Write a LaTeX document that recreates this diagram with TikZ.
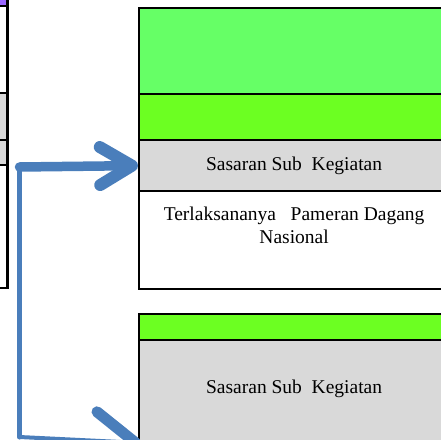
\documentclass[tikz,border=0pt]{standalone}
\usepackage{fontspec}
\setmainfont{Liberation Serif}
\usetikzlibrary{arrows.meta}

\definecolor{headgreen}{HTML}{66FF66}
\definecolor{stripgreen}{HTML}{6CFF22}
\definecolor{cellgray}{HTML}{D9D9D9}
\definecolor{headpurple}{HTML}{9966FF}
\definecolor{flowblue}{HTML}{4A7EBB}

\tikzset{
  cell/.style={draw, line width=2.2pt, minimum width=310pt, inner sep=0pt, anchor=north west},
  cellfont/.style={font=\fontsize{19.5}{23}\selectfont},
  flow/.style={draw=flowblue, line cap=round, line join=round}
}

\begin{document}
\begin{tikzpicture}[x=1pt, y=-1pt]
            \useasboundingbox (0,0) rectangle (441,439);

            % left column (cut off)
            \draw[line width=2.2pt, fill=headpurple] (-30,-10) rectangle (7.5,6);
            \draw[line width=2.2pt, fill=white] (-30,6) rectangle (7.5,93);
            \draw[line width=2.2pt, fill=cellgray] (-30,93) rectangle (7.5,140);
            \draw[line width=2.2pt, fill=cellgray] (-30,140) rectangle (7.5,165);
            \draw[line width=2.2pt, fill=white] (-30,165) rectangle (7.5,288);

            % first column on the right
            \node[cell, fill=headgreen, minimum height=86pt] (headA) at (138,7) {};
            \node[cell, fill=stripgreen, minimum height=46pt] (stripA) at (138,93) {};
            \node[cell, fill=cellgray, minimum height=51pt, cellfont] (sasaranA) at (138,139) {Sasaran Sub\ \ Kegiatan};
            \node[cell, fill=white, minimum height=98pt] (targetA) at (138,190) {};
            \node[cellfont, align=center, anchor=north] (textA) at ([yshift=-13pt]targetA.north)
              {Terlaksananya\ \ \ Pameran Dagang\\Nasional};

            % second column on the right
            \node[cell, fill=stripgreen, minimum height=26pt] (stripB) at (138,313) {};
            \node[cell, fill=cellgray, minimum height=150pt] (sasaranB) at (138,339) {};
            \node[cellfont] (textB) at ([yshift=-50pt]sasaranB.north) {Sasaran Sub\ \ Kegiatan};

            % connectors
            \coordinate (elbow) at (19.5,167);
            \coordinate (corner) at (19.5,437);
            \coordinate (tipB) at (141,443);
            \draw[flow, line width=5pt] (elbow) -- (corner);
            \draw[flow, line width=9.5pt, -{Straight Barb[round, length=32pt, width=38pt, line width=12pt]}]
              (elbow) -- (sasaranA.west);
            \draw[flow, line width=4pt, -{Straight Barb[round, length=40pt, width=58pt, line width=11pt]}]
              (corner) -- (tipB);

        \end{tikzpicture}
\end{document}
